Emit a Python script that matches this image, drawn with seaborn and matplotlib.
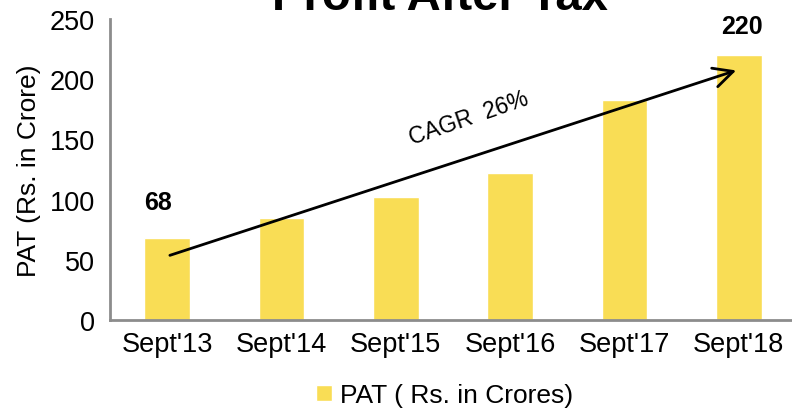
import matplotlib
matplotlib.use("Agg")
import matplotlib.pyplot as plt
import seaborn as sns
import pandas as pd

years = ["Sept'13", "Sept'14", "Sept'15", "Sept'16", "Sept'17", "Sept'18"]
pat = [68, 85, 102, 122, 183, 220]
shown_labels = {0: "68", 5: "220"}
cagr_text = "CAGR  26%"

sns.set_style("white")
plt.rcParams['font.family'] = ['Liberation Sans', 'DejaVu Sans']
plt.rcParams['text.color'] = 'black'
plt.rcParams['axes.labelcolor'] = 'black'

df = pd.DataFrame({"year": years, "pat": pat})

fig = plt.figure(figsize=(7.92, 4.14), dpi=100)
ax = fig.add_axes([0.139, 0.2246, 0.866, 0.7271])

sns.barplot(data=df, x="year", y="pat", color="#F9DD55", saturation=1,
            width=0.4, ax=ax, label="PAT ( Rs. in Crores)")

ax.set_xlim(-0.5, 5.5)
ax.set_ylim(0, 250)
ax.set_yticks(range(0, 251, 50))

# tick marks between categories, labels at centres
ax.set_xticks([i + 0.5 for i in range(-1, 6)])
ax.set_xticklabels([])
ax.set_xticks(range(len(years)), minor=True)
ax.set_xticklabels(years, minor=True)
ax.tick_params(axis="x", which="major", length=7, width=1.5, color="#8c8c8c", direction="out")
ax.tick_params(axis="x", which="minor", length=0, labelsize=19.5, pad=8, labelcolor="black")
ax.tick_params(axis="y", length=7, width=1.5, color="#8c8c8c", direction="out",
               labelsize=19.5, pad=4, labelcolor="black")

for s in ["top", "right"]:
    ax.spines[s].set_visible(False)
for s in ["left", "bottom"]:
    ax.spines[s].set_color("#8c8c8c")
    ax.spines[s].set_linewidth(2)

ax.set_xlabel("")
ax.set_ylabel("PAT (Rs. in Crore)", fontsize=19, labelpad=6)

# value labels only on first and last bar
label_pos = {0: (-0.08, 98), 5: (5.03, 244)}
for i, t in shown_labels.items():
    lx, ly = label_pos[i]
    ax.text(lx, ly, t, ha="center", va="center", fontsize=18, fontweight="bold", clip_on=False)

ax.annotate("", xy=(5, 208), xytext=(0, 53),
            arrowprops=dict(arrowstyle="->", color="black", lw=2, mutation_scale=35))
ax.text(2.64, 168, cagr_text, rotation=19, ha="center", va="center", fontsize=16.5)

fig.text(0.555, 1 - 10 / 414, "Profit After Tax", ha="center", va="baseline",
         fontsize=34, fontweight="bold")

ax.legend(loc="center", bbox_to_anchor=(0.488, -0.25), frameon=False,
          fontsize=19, handlelength=0.6, handleheight=0.6, handletextpad=0.3)

fig.savefig("out.png", dpi=100)
